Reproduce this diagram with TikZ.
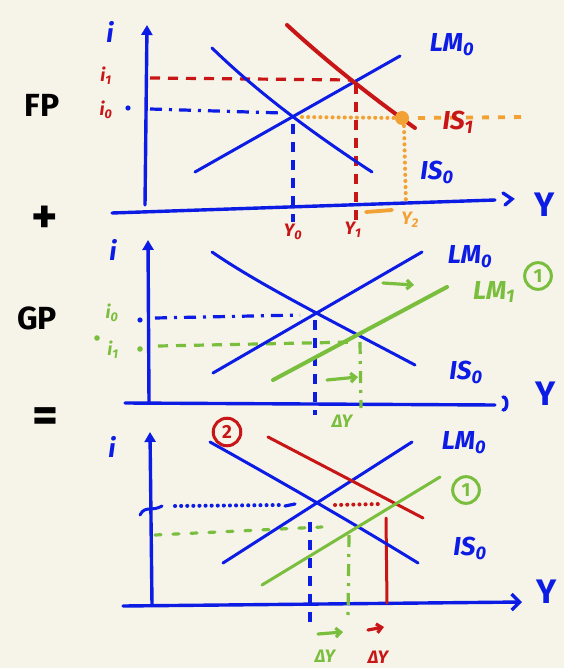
\documentclass[tikz,border=0pt]{standalone}
\usepackage{fontspec}
\setmainfont{Fira Sans}
\usetikzlibrary{arrows.meta}
\definecolor{bg}{RGB}{246,243,232}
\definecolor{pblue}{RGB}{12,28,228}
\definecolor{pred}{RGB}{200,22,22}
\definecolor{porange}{RGB}{242,162,52}
\definecolor{pgreen}{RGB}{122,190,62}
\tikzset{
 axis/.style={pblue, line width=3.4pt, line cap=round},
 curve/.style={line width=3pt, line cap=round},
 thick curve/.style={line width=4pt, line cap=round},
 lbl/.style={font=\fontsize{26}{26}\selectfont\bfseries\itshape, inner sep=0pt},
 slbl/.style={font=\fontsize{18}{18}\selectfont\bfseries\itshape, inner sep=0pt},
 big/.style={font=\fontsize{32}{32}\selectfont\bfseries, inner sep=0pt},
 huge/.style={font=\fontsize{50}{50}\selectfont\bfseries, inner sep=0pt},
 ylbl/.style={pblue, font=\fontsize{34}{34}\selectfont\bfseries, inner sep=0pt},
 dashline/.style={line width=3.2pt, dash pattern=on 10pt off 8pt},
 dashdot/.style={line width=3.2pt, dash pattern=on 12pt off 7pt on 3pt off 7pt},
 dotline/.style={line width=4pt, line cap=round, dash pattern=on 0.1pt off 6pt},
 circled/.style={circle, draw, line width=3pt, inner sep=4pt, font=\fontsize{19}{19}\selectfont\bfseries},
 harrow/.style={line width=3.2pt, line cap=round, -{Straight Barb[length=5pt,width=9pt]}},
}
\begin{document}
\begin{tikzpicture}[x=1pt,y=-1pt]
\fill[bg] (0,0) rectangle (564,668);
\clip (0,0) rectangle (564,668);

% ---------- side labels ----------
\node[big] (fp) at (42,105) {FP};
\node[huge] (plus) at (45,220) {+};
\node[big] (gp) at (37,318) {GP};
\node[huge] (eq) at (45,420) {=};

% =============== PANEL 1 ===============
\draw[axis,-{Triangle[length=10pt,width=11pt]}] (145,205) -- (147,25);
\draw[axis] (112,213) -- (495,200);
\draw[axis] (503,193) -- (512,199) -- (505,205);
\node[ylbl] (y1) at (545,205) {Y};
\node[lbl,pblue] (i1lab) at (110,32) {i};
\node[slbl,pred] (ia) at (106,76) {i\textsubscript{1}};
\node[slbl,pred] (ib) at (106,110) {i\textsubscript{0}};
\fill[pblue] (128,108) circle (2.6pt);

% guides
\draw[pred,dashline] (150,78) -- (352,80);
\draw[pred,dashline] (356,84) -- (356,222);
\draw[pblue,dashdot] (150,109) -- (282,113);
\draw[pblue,dashline] (293,124) -- (293,222);
\draw[porange,dotline] (302,117) -- (398,118);
\draw[porange,line width=3.8pt,dash pattern=on 7pt off 9pt] (418,118) -- (528,117);
\draw[porange,dotline] (404,126) -- (406,205);
\draw[porange,line width=3.8pt,line cap=round] (366,212) -- (392,210);

% curves
\draw[pblue,curve] (212,48) .. controls (250,85) and (300,125) .. (372,172);
\draw[pblue,curve] (195,172) -- (400,56);
\draw[pred,thick curve] (287,25) .. controls (325,60) and (365,92) .. (415,128);
\fill[porange] (402,118) circle (7pt);

\node[slbl,pred] (y0l) at (293,232) {Y\textsubscript{0}};
\node[slbl,pred] (y1l) at (353,230) {Y\textsubscript{1}};
\node[slbl,porange] (y2l) at (410,220) {Y\textsubscript{2}};
\node[lbl,pblue] (lm0a) at (452,45) {LM\textsubscript{0}};
\node[lbl,pred] (is1a) at (458,122) {IS\textsubscript{1}};
\node[lbl,pblue] (is0a) at (437,172) {IS\textsubscript{0}};

% =============== PANEL 2 ===============
\draw[axis,-{Triangle[length=10pt,width=11pt]}] (149,402) -- (148,240);
\draw[axis] (125,403) -- (495,405);
\draw[axis] (503,397) to[out=0,in=0] (503,410);
\node[ylbl] (y2) at (546,394) {Y};
\node[lbl,pblue] (i2lab) at (113,250) {i};
\node[slbl,pgreen] (ic) at (112,313) {i\textsubscript{0}};
\node[slbl,pgreen] (id) at (113,350) {i\textsubscript{1}};
\fill[pgreen] (97,338) circle (2.8pt);
\fill[pgreen] (140,349) circle (2.8pt);
\fill[pblue] (140,320) circle (2.6pt);

\draw[pblue,dashdot] (155,318) -- (300,315);
\draw[pgreen,dashline] (158,346) -- (355,342);
\draw[pblue,dashline] (315,320) -- (315,415);
\draw[pgreen,dashdot] (360,342) -- (361,408);

\draw[pblue,curve] (212,252) .. controls (260,285) and (330,320) .. (415,365);
\draw[pblue,curve] (213,373) -- (422,252);
\draw[pgreen,thick curve] (273,380) -- (447,287);

\draw[pgreen,harrow] (327,380) -- (358,377);
\draw[pgreen,harrow] (383,283) -- (414,285);
\node[slbl,pgreen] (dy2) at (342,421) {ΔY};
\node[lbl,pblue] (lm0b) at (470,257) {LM\textsubscript{0}};
\node[lbl,pgreen] (lm1b) at (494,292) {LM\textsubscript{1}};
\node[circled,pgreen] (c1b) at (538,276) {1};
\node[lbl,pblue] (is0b) at (466,372) {IS\textsubscript{0}};

% =============== PANEL 3 ===============
\draw[axis,-{Triangle[length=10pt,width=11pt]}] (152,605) -- (150,432);
\draw[axis,-{Straight Barb[length=8pt,width=16pt]}] (123,606) -- (522,602);
\node[ylbl,anchor=west] (y3) at (536,592) {Y};
\node[lbl,pblue] (i3lab) at (112,447) {i};
\draw[pblue,line width=3pt,line cap=round] (140,515) .. controls (145,505) and (152,512) .. (162,506);

\draw[pblue,dotline] (175,506) -- (280,505);
\draw[pblue,line width=3.2pt,line cap=round] (285,506) -- (295,504);
\draw[pred,dotline] (335,505) -- (380,504);
\draw[pgreen,line width=3.2pt,dash pattern=on 6pt off 12pt,line cap=round] (155,535) -- (322,527);
\draw[pblue,dashline] (310,522) -- (310,622);
\draw[pgreen,dashdot] (349,535) -- (348,620);
\draw[pred,curve] (386,518) -- (387,603);

\draw[pblue,curve] (210,442) .. controls (260,470) and (340,515) .. (418,563);
\draw[pblue,curve] (223,563) -- (412,442);
\draw[pred,curve] (268,437) -- (423,518);
\draw[pgreen,curve] (262,585) -- (440,477);

\node[circled,pred] (c2) at (227,432) {2};
\node[circled,pgreen] (c1c) at (466,490) {1};
\node[lbl,pblue] (lm0c) at (464,443) {LM\textsubscript{0}};
\node[lbl,pblue] (is0c) at (470,548) {IS\textsubscript{0}};

\draw[pgreen,harrow] (318,634) -- (343,632);
\draw[pred,harrow] (368,630) -- (384,627);
\node[slbl,pgreen] (dy3a) at (325,656) {ΔY};
\node[slbl,pred] (dy3b) at (378,657) {ΔY};
\end{tikzpicture}
\end{document}
